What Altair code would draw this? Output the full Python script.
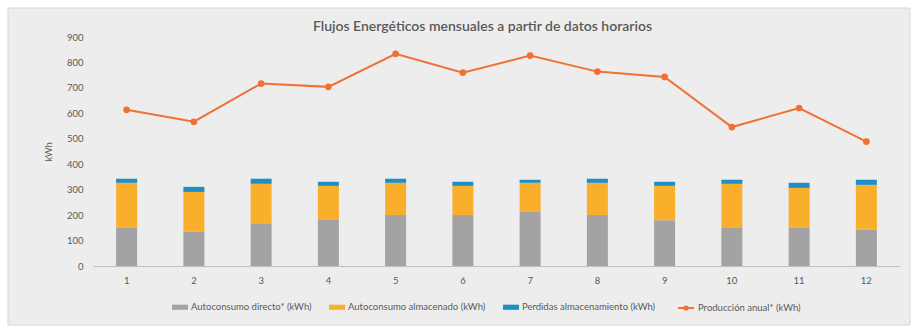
import altair as alt
import pandas as pd

meses = [str(i) for i in range(1, 13)]
directo = [152, 136, 168, 184, 200, 200, 212, 200, 180, 152, 152, 144]
almacenado = [175, 155, 155, 131, 127, 115, 115, 127, 135, 171, 155, 175]
perdidas = [16, 20, 20, 16, 16, 16, 12, 16, 16, 16, 20, 20]
produccion = [614, 567, 717, 704, 834, 760, 827, 764, 743, 546, 621, 489]
y_ticks = [0, 100, 200, 300, 400, 500, 600, 700, 800, 900]

series = ["Autoconsumo directo* (kWh)", "Autoconsumo almacenado (kWh)", "Perdidas almacenamiento (kWh)"]
colores = ["#A3A3A3", "#F9AE2C", "#1E8EC6"]
serie_linea = "Producción anual* (kWh)"
color_linea = "#EE7233"

rows = []
for i, m in enumerate(meses):
    for k, (s, vals) in enumerate(zip(series, [directo, almacenado, perdidas])):
        rows.append({"mes": m, "serie": s, "orden": k, "valor": vals[i]})
df_bars = pd.DataFrame(rows)
df_line = pd.DataFrame({"mes": meses, "valor": produccion, "serie": [serie_linea] * 12})

W, H = 807, 229
FONT = "Lato"

panel = alt.Chart(pd.DataFrame({"a": [0]})).mark_rect(
    fill="#EDEDED", stroke="#D6D6D6", strokeWidth=1
).encode(x=alt.value(-85), x2=alt.value(W + 10), y=alt.value(-29), y2=alt.value(H + 59))

x_axis = alt.Axis(labelAngle=0, ticks=False, domainColor="#BFBFBF",
                  labelPadding=9, labelFontSize=9.5, labelColor="#595959", zindex=1)
y_axis = alt.Axis(values=y_ticks, grid=False, ticks=False, tickCount=10,
                  domain=False, labelPadding=10, labelFontSize=9.5,
                  labelOverlap=False, labelColor="#595959", titleFontSize=9.5,
                  titleColor="#595959", titleFontWeight="normal", titlePadding=13,
                  zindex=1)
x_scale = alt.Scale(paddingInner=0.69, paddingOuter=0.345)
y_scale = alt.Scale(domain=[0, 900], nice=False)

bars = alt.Chart(df_bars).mark_bar(size=21).encode(
    x=alt.X("mes:N", sort=meses, title=None, scale=x_scale, axis=x_axis),
    y=alt.Y("valor:Q", stack="zero", title="kWh", scale=y_scale, axis=y_axis),
    color=alt.Color("serie:N", sort=series,
                    scale=alt.Scale(domain=series, range=colores),
                    legend=alt.Legend(title=None, orient="none", direction="horizontal",
                                      legendX=79, legendY=262, zindex=1,
                                      symbolType="M-1,-0.32H1V0.32H-1Z", symbolSize=256,
                                      symbolStrokeWidth=0, labelFontSize=9.5,
                                      labelColor="#595959", labelOffset=3,
                                      columnPadding=17)),
    order=alt.Order("orden:Q", sort="ascending"),
)

line = alt.Chart(df_line).mark_line(
    strokeWidth=2, point=alt.OverlayMarkDef(filled=True, size=22, color=color_linea)
).encode(
    x=alt.X("mes:N", sort=meses, title=None, scale=x_scale, axis=x_axis),
    y=alt.Y("valor:Q", title="kWh", scale=y_scale, axis=y_axis),
    stroke=alt.Stroke("serie:N", scale=alt.Scale(domain=[serie_linea], range=[color_linea]),
                      legend=alt.Legend(title=None, orient="none", direction="horizontal",
                                        legendX=584, legendY=262,
                                        symbolType="M-1,0H1M0.2,0A0.2,0.2 0 1,1 -0.2,0A0.2,0.2 0 1,1 0.2,0Z",
                                        symbolFillColor=color_linea,
                                        symbolSize=256, symbolStrokeWidth=2, zindex=1,
                                        labelFontSize=9.5, labelColor="#595959",
                                        labelOffset=3)),
)

chart = alt.layer(panel, bars, line).properties(
    width=W, height=H,
    title=alt.TitleParams("Flujos Energéticos mensuales a partir de datos horarios",
                          fontSize=14, fontWeight=600, color="#595959", font=FONT,
                          anchor="middle", dx=-14, offset=-26, zindex=1),
    autosize=alt.AutoSizeParams(type="none"),
    padding={"left": 93, "top": 37, "right": 19, "bottom": 66},
).configure(
    background="white", font=FONT
).configure_view(stroke=None)

chart.save("out.html", embed_options={"renderer": "svg", "actions": False})
